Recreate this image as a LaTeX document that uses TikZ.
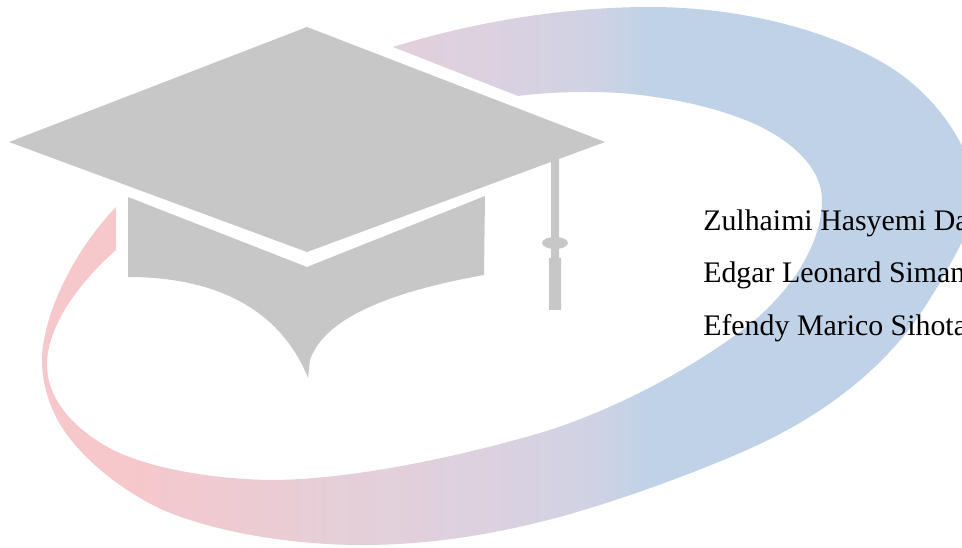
\documentclass[tikz,border=0pt]{standalone}
\usepackage{fontspec}
\setmainfont{Liberation Serif}
\definecolor{swpink}{HTML}{F6C7CB}
\definecolor{swblue}{HTML}{BFD2E7}
\definecolor{swmidA}{HTML}{E5CFD8}
\definecolor{swmidC}{HTML}{DDD1DF}
\definecolor{swmidB}{HTML}{CFD2E4}
\definecolor{capgrey}{HTML}{C7C7C7}
\pgfdeclarehorizontalshading{swooshgrad}{100bp}{color(0bp)=(swpink); color(25bp)=(swpink); color(45.2bp)=(swmidA); color(58.6bp)=(swmidC); color(69.9bp)=(swmidB); color(75bp)=(swblue); color(100bp)=(swblue)}
\tikzset{capshape/.style={fill=capgrey,draw=none},
 nametext/.style={anchor=base west,inner sep=0pt,font=\fontsize{22.4}{26}\selectfont,text=black}}
\begin{document}
\begin{tikzpicture}[x=0.75pt,y=-0.75pt]
\useasboundingbox (0,0) rectangle (962,548);
\begin{scope}
\clip (0,0) rectangle (962,548);
\begin{scope}
\clip (393,47)
 .. controls (480,20) and (570,7) .. (650,7)
 .. controls (740,7) and (830,30) .. (890,67)
 .. controls (942,100) and (975,155) .. (975,195)
 .. controls (975,215) and (970,228) .. (962,242)
 .. controls (945,275) and (925,310) .. (903,337)
 .. controls (860,388) and (805,425) .. (740,453)
 .. controls (670,483) and (590,510) .. (540,522)
 .. controls (480,537) and (420,545) .. (363,545)
 .. controls (290,545) and (215,532) .. (163,510)
 .. controls (120,490) and (85,460) .. (65,432)
 .. controls (50,410) and (42,385) .. (42,360)
 .. controls (42,320) and (70,255) .. (116,207)
 -- (116,250)
 .. controls (80,282) and (47,325) .. (47,365)
 .. controls (47,400) and (75,430) .. (113,450)
 .. controls (150,468) and (210,479) .. (270,480)
 .. controls (340,480) and (440,462) .. (540,433)
 .. controls (610,412) and (690,370) .. (745,328)
 .. controls (790,293) and (822,245) .. (822,200)
 .. controls (822,170) and (795,143) .. (757,125)
 .. controls (720,108) and (670,97) .. (620,93)
 .. controls (585,91) and (550,92) .. (518,96)
 -- cycle;
\shade[shading=swooshgrad,draw=none] (130,0) rectangle (650,548);
\fill[swpink] (0,0) rectangle (130.5,548);
\fill[swblue] (649.5,0) rectangle (962,548);
\end{scope}
\path[capshape] (307,27) -- (605,142) -- (307,252) -- (9,142) -- cycle;
\path[capshape] (128,197) -- (307,267) -- (485,196) -- (484,275)
 .. controls (400,290) and (325,315) .. (310,360) -- (308,378)
 .. controls (285,320) and (230,277) .. (128,277) -- cycle;
\path[capshape] (551,160) -- (559,157) -- (559,258) -- (561,258) -- (561,310) -- (549,310) -- (549,258) -- (551,258) -- cycle;
\path[capshape] (555,243) ellipse [x radius=13,y radius=6];
\node[nametext] (n1) at (703,231) {Zulhaimi Hasyemi Da};
\node[nametext] (n2) at (703,283) {Edgar Leonard Siman};
\node[nametext] (n3) at (703,335) {Efendy Marico Sihota};
\end{scope}
\end{tikzpicture}
\end{document}
